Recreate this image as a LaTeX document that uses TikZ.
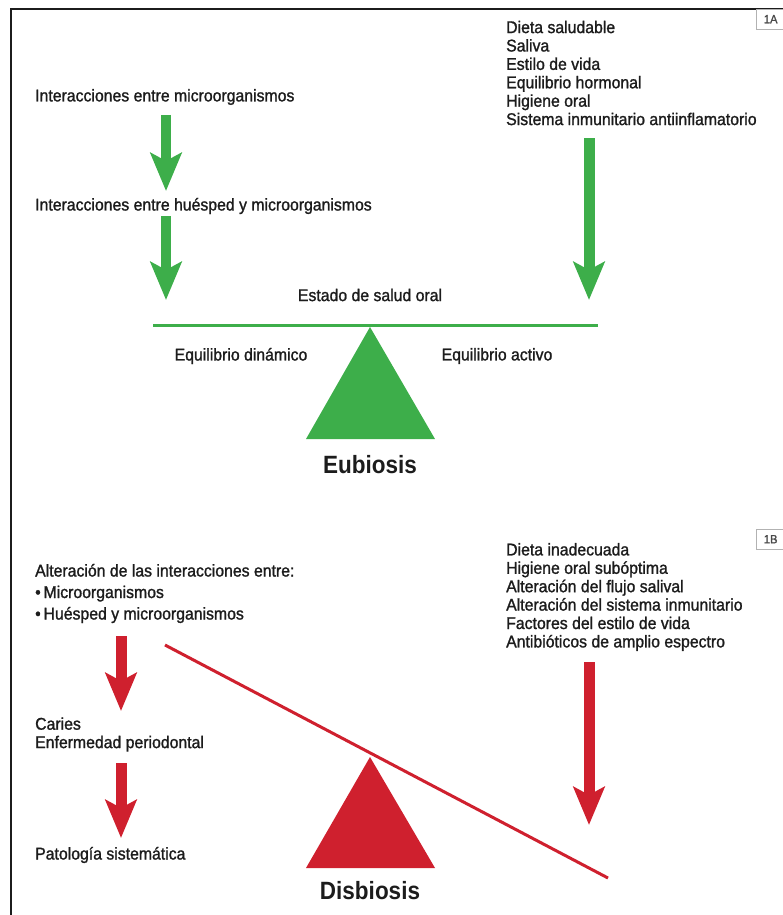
\documentclass[tikz,border=0pt]{standalone}
\usepackage{fontspec}
\setmainfont[FakeStretch=0.93, UprightFeatures={FakeBold=1.3},
  BoldFeatures={FakeStretch=0.9}]{Liberation Sans}
\usetikzlibrary{arrows.meta}

\definecolor{okgreen}{HTML}{3DAE4A}
\definecolor{badred}{HTML}{CF202E}
\definecolor{ink}{HTML}{1C1C1C}

\tikzset{
  txt/.style={anchor=west, inner sep=0pt, text=ink, align=left,
    font=\fontsize{17}{18.4}\selectfont},
  ttl/.style={inner sep=0pt, text=ink, font=\bfseries\fontsize{25}{28}\selectfont},
  tag/.style={draw=gray!60, text=ink!80, inner sep=0pt,
    minimum width=29pt, minimum height=20pt, font=\fontsize{12}{14}\selectfont},
  blockarrow/.style={line width=11pt,
    -{Stealth[length=38pt, width=31pt, inset=8pt]}},
}

\begin{document}
\begin{tikzpicture}[x=1pt, y=-1pt]

\useasboundingbox (0,0) rectangle (783,915);

% Frame
\draw[line width=2pt, ink] (11,915) -- (11,9) -- (783,9);

% Tags
\node[tag, anchor=north west] (tagA) at (756,9) {1A};
\node[tag, anchor=north west] (tagB) at (756,529) {1B};

% ---- Eubiosis ----
\node[txt] (micA) at (35,97) {Interacciones entre microorganismos};
\node[txt] (hostA) at (35,206) {Interacciones entre huésped y microorganismos};
\node[txt] (factA) at (506,73) {Dieta saludable\\Saliva\\Estilo de vida\\Equilibrio hormonal\\Higiene oral\\Sistema inmunitario antiinflamatorio};

\coordinate (gA1) at (166,115);
\coordinate (gA2) at (166,191);
\coordinate (gB1) at (166,216);
\coordinate (gB2) at (166,300);
\coordinate (gC1) at (589,138);
\coordinate (gC2) at (589,300);

\draw[blockarrow, okgreen, line width=10pt] (gA1) -- (gA2);
\draw[blockarrow, okgreen, line width=10pt] (gB1) -- (gB2);
\draw[blockarrow, okgreen] (gC1) -- (gC2);

\node[txt, anchor=center] (health) at (370,295) {Estado de salud oral};

% beam and pivot
\coordinate (beamL) at (153,325);
\coordinate (beamR) at (598,325);
\draw[line width=3pt, okgreen] (beamL) -- (beamR);
\fill[okgreen] (370,327) -- (306,439) -- (435,439) -- cycle;

\node[txt, anchor=center] (dyn) at (241,356) {Equilibrio dinámico};
\node[txt, anchor=center] (act) at (497,356) {Equilibrio activo};
\node[ttl] (eub) at (370,465) {Eubiosis};

% ---- Disbiosis ----
\node[txt, font=\fontsize{17}{21.5}\selectfont] (alt) at (35,593.5)
  {Alteración de las interacciones entre:\\•\,Microorganismos\\•\,Huésped y microorganismos};
\node[txt] (factB) at (506,597) {Dieta inadecuada\\Higiene oral subóptima\\Alteración del flujo salival\\Alteración del sistema inmunitario\\Factores del estilo de vida\\Antibióticos de amplio espectro};
\node[txt] (caries) at (35,734.5) {Caries\\Enfermedad periodontal};
\node[txt] (pato) at (35,855) {Patología sistemática};

\coordinate (rA1) at (121,636);
\coordinate (rA2) at (121,711);
\coordinate (rB1) at (121,763);
\coordinate (rB2) at (121,838);
\coordinate (rC1) at (589,662);
\coordinate (rC2) at (589,825);

\draw[blockarrow, badred] (rA1) -- (rA2);
\draw[blockarrow, badred] (rB1) -- (rB2);
\draw[blockarrow, badred] (rC1) -- (rC2);

% tilted beam and pivot
\coordinate (tiltL) at (165,645);
\coordinate (tiltR) at (608,878);
\draw[line width=3pt, badred] (tiltL) -- (tiltR);
\fill[badred] (370,757) -- (306,868) -- (435,868) -- cycle;

\node[ttl] (dis) at (370,891) {Disbiosis};

\end{tikzpicture}
\end{document}
